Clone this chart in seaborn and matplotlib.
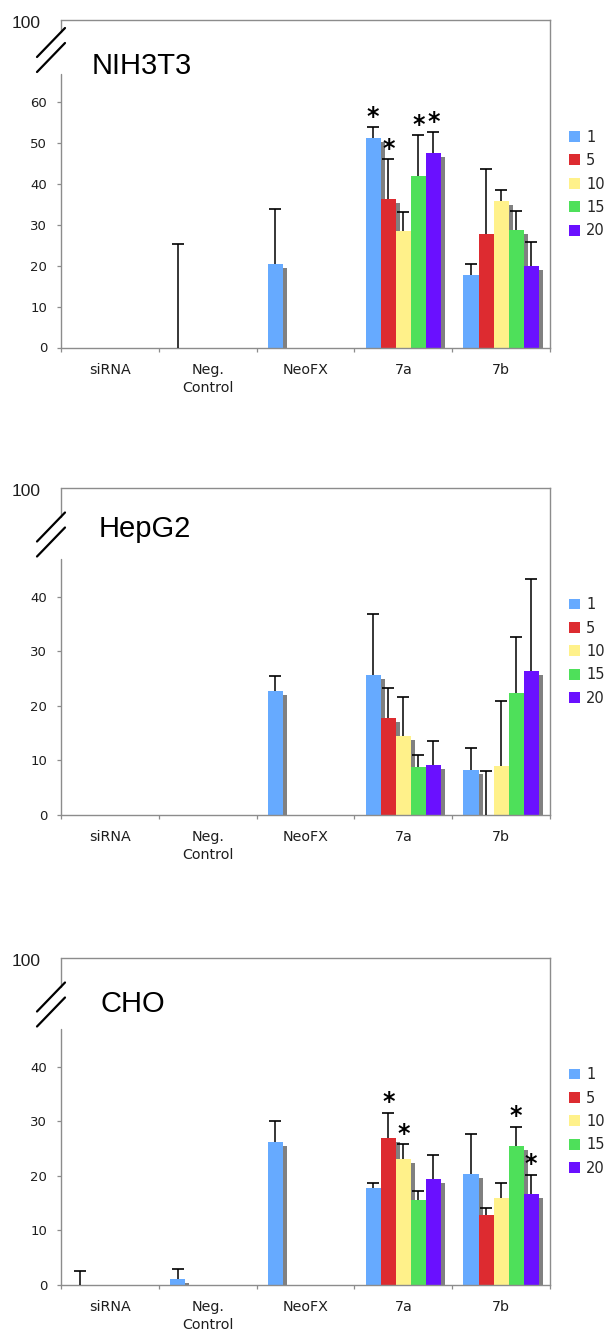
import numpy as np
import pandas as pd
import matplotlib
matplotlib.use("Agg")
import matplotlib.pyplot as plt
import matplotlib.patheffects as pe
from matplotlib.lines import Line2D
import seaborn as sns

nan = np.nan

categorias = ["siRNA", "Neg.\nControl", "NeoFX", "7a", "7b"]
concentracoes = ["1", "5", "10", "15", "20"]
cores = ["#66AAFF", "#DD2B30", "#FFF18A", "#4EE05A", "#6A10FF"]

# --- NIH3T3 ---
nih_1 = [0, 0, 20.5, 51.2, 17.7]
nih_5 = [0, 0, 0, 36.2, 27.7]
nih_10 = [0, 0, 0, 28.4, 35.7]
nih_15 = [0, 0, 0, 42.0, 28.6]
nih_20 = [0, 0, 0, 47.6, 19.9]
nih_err_1 = [nan, 25.4, 13.3, 2.6, 2.6]
nih_err_5 = [nan, nan, nan, 9.8, 16.0]
nih_err_10 = [nan, nan, nan, 4.8, 2.8]
nih_err_15 = [nan, nan, nan, 9.8, 4.8]
nih_err_20 = [nan, nan, nan, 5.0, 5.8]
nih_estrelas = [("7a", "1"), ("7a", "5"), ("7a", "15"), ("7a", "20")]

# --- HepG2 ---
hep_1 = [0, 0, 22.7, 25.6, 8.3]
hep_5 = [0, 0, 0, 17.7, 0]
hep_10 = [0, 0, 0, 14.4, 8.9]
hep_15 = [0, 0, 0, 8.8, 22.4]
hep_20 = [0, 0, 0, 9.1, 26.4]
hep_err_1 = [nan, nan, 2.7, 11.2, 3.9]
hep_err_5 = [nan, nan, nan, 5.5, 8.1]
hep_err_10 = [nan, nan, nan, 7.3, 11.9]
hep_err_15 = [nan, nan, nan, 2.2, 10.3]
hep_err_20 = [nan, nan, nan, 4.5, 16.8]
hep_estrelas = []

# --- CHO ---
cho_1 = [0, 1.1, 26.2, 17.8, 20.3]
cho_5 = [0, 0, 0, 26.9, 12.9]
cho_10 = [0, 0, 0, 23.0, 15.95]
cho_15 = [0, 0, 0, 15.6, 25.5]
cho_20 = [0, 0, 0, 19.5, 16.7]
cho_err_1 = [2.6, 1.8, 3.9, 0.95, 7.3]
cho_err_5 = [nan, nan, nan, 4.7, 1.2]
cho_err_10 = [nan, nan, nan, 2.75, 2.8]
cho_err_15 = [nan, nan, nan, 1.6, 3.5]
cho_err_20 = [nan, nan, nan, 4.4, 3.45]
cho_estrelas = [("7a", "5"), ("7a", "10"), ("7b", "15"), ("7b", "20")]

sns.set_style("white")
plt.rcParams["font.family"] = ["DejaVu Sans"]

CINZA = "#8c8c8c"
TEXTO = "#1e1e1e"
W_PX, H_PX = 489.0, 327.5   # tamanho do eixo em pixels


def fx(dx):
    return dx / W_PX


def fy(dy):
    return 1 - dy / H_PX


def desenhar_painel(ax, titulo, valores, erros, estrelas, ymax, yticks,
                    desloc, pos_titulo):
    df = pd.DataFrame({
        "categoria": np.tile(categorias, len(concentracoes)),
        "conc": np.repeat(concentracoes, len(categorias)),
        "valor": np.concatenate(valores),
    })
    sns.barplot(data=df, x="categoria", y="valor", hue="conc",
                order=categorias, hue_order=concentracoes, palette=cores,
                saturation=1, width=0.77, gap=0, errorbar=None,
                linewidth=0, ax=ax, zorder=2)

    sombra = [pe.SimplePatchShadow(offset=(2.9, -2.9), shadow_rgbFace="#808080",
                                   alpha=1), pe.Normal()]

    # cada container = uma concentracao, barras na ordem das categorias
    topos = {}
    for i_conc, cont in enumerate(ax.containers):
        for i_cat, p in enumerate(cont):
            p.set_path_effects(sombra)
            cx = p.get_x() + p.get_width() / 2
            h = p.get_height()
            e = erros[i_conc][i_cat]
            topos[(i_cat, i_conc)] = (cx, h + (0 if np.isnan(e) else e))
            if np.isnan(e):
                continue
            ax.vlines(cx, h, h + e, color="black", lw=1.1, zorder=3)
            ax.plot(cx, h + e, marker="_", ms=8, mew=1.2, color="black",
                    zorder=3, clip_on=False)

    # --- asteriscos ---
    nomes_cat = [c.split("\n")[0] for c in categorias]
    for cat, conc in estrelas:
        cx, topo = topos[(nomes_cat.index(cat), concentracoes.index(conc))]
        ax.annotate("*", xy=(cx, topo), xytext=(0, 2.6), textcoords="offset points",
                    ha="center", va="baseline", fontsize=17, fontweight="bold",
                    color="black")

    # --- eixos ---
    ax.set_xlim(-0.5, len(categorias) - 0.5)
    ax.set_ylim(0, ymax)
    ax.set_xticks(range(len(categorias)))
    ax.set_xticklabels(categorias)
    for t in ax.get_xticklabels():
        t.set_linespacing(1.35)
    ax.set_xticks(np.arange(-0.5, len(categorias), 1), minor=True)
    ax.set_yticks(yticks)
    ax.set_xlabel("")
    ax.set_ylabel("")
    ax.tick_params(axis="x", which="major", length=0, pad=11, labelsize=10.3,
                   labelcolor=TEXTO)
    ax.tick_params(axis="x", which="minor", length=3, width=0.9, color=CINZA,
                   direction="out", bottom=True)
    ax.tick_params(axis="y", length=3, width=0.9, color=CINZA, direction="out",
                   pad=7, labelsize=9.5, labelcolor=TEXTO, left=True)
    for lado in ["top", "right", "bottom"]:
        ax.spines[lado].set_color(CINZA)
        ax.spines[lado].set_linewidth(1.0)
    ax.spines["left"].set_visible(False)

    # eixo y quebrado
    tr = ax.transAxes
    ax.add_line(Line2D([0, 0], [1, fy(12 + desloc)], color=CINZA, lw=1.0,
                       transform=tr, clip_on=False))
    ax.add_line(Line2D([0, 0], [fy(54 + desloc), 0], color=CINZA, lw=1.0,
                       transform=tr, clip_on=False))
    for d in [0, 15]:
        ax.add_line(Line2D([fx(-24), fx(4)], [fy(37 + d + desloc), fy(8 + d + desloc)],
                           color="black", lw=1.6, transform=tr, clip_on=False))
    ax.text(fx(-20), fy(4), "100", transform=tr, ha="right", va="center",
            fontsize=12.5, family="Liberation Sans", color=TEXTO)

    ax.text(fx(pos_titulo[0]), fy(pos_titulo[1]), titulo, transform=tr,
            ha="left", va="baseline", fontsize=21, family="Liberation Sans",
            color="black")

    sns.move_legend(ax, "center left", bbox_to_anchor=(fx(508), fy(164)),
                    frameon=False, title="", fontsize=10.5, handlelength=0.78,
                    handleheight=0.78, handletextpad=0.4, labelspacing=0.58,
                    borderpad=0, borderaxespad=0)


fig = plt.figure(figsize=(6.09, 13.36), dpi=100)
esq, larg, alt = 61 / 609, 489 / 609, 327.5 / 1336
paineis = [
    ("NIH3T3", [nih_1, nih_5, nih_10, nih_15, nih_20],
     [nih_err_1, nih_err_5, nih_err_10, nih_err_15, nih_err_20],
     nih_estrelas, 80, range(0, 61, 10), 0, (31, 54), 347.5),
    ("HepG2", [hep_1, hep_5, hep_10, hep_15, hep_20],
     [hep_err_1, hep_err_5, hep_err_10, hep_err_15, hep_err_20],
     hep_estrelas, 60, range(0, 41, 10), 17, (38, 49), 815),
    ("CHO", [cho_1, cho_5, cho_10, cho_15, cho_20],
     [cho_err_1, cho_err_5, cho_err_10, cho_err_15, cho_err_20],
     cho_estrelas, 60, range(0, 41, 10), 17, (39, 54), 1285),
]
for titulo, vals, errs, estr, ymax, yt, desloc, pos_t, y_zero in paineis:
    ax = fig.add_axes([esq, 1 - y_zero / 1336, larg, alt])
    desenhar_painel(ax, titulo, vals, errs, estr, ymax, list(yt), desloc, pos_t)

fig.savefig("out.png", dpi=100)
